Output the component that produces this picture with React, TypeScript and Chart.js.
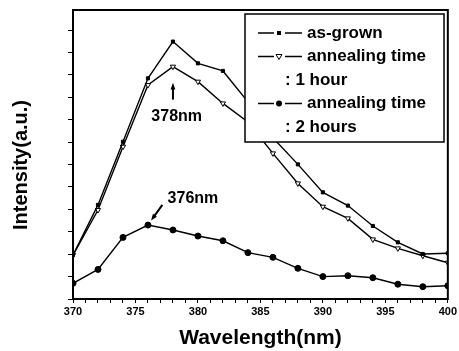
import React, { useEffect, useRef } from "react";
import { Chart, registerables } from "chart.js";

Chart.register(...registerables);

const wavelengths = [370, 372, 374, 376, 378, 380, 382, 384, 386, 388, 390, 392, 394, 396, 398, 400];
const asGrown = [1.96, 4.2, 7.02, 9.85, 11.49, 10.52, 10.18, 8.8, 7.2, 6.01, 4.76, 4.17, 3.26, 2.53, 2.01, 2.04];
const anneal1h = [1.96, 3.97, 6.8, 9.55, 10.37, 9.7, 8.73, 7.9, 6.5, 5.16, 4.12, 3.6, 2.66, 2.26, 1.93, 1.62];
const anneal2h = [0.7, 1.32, 2.75, 3.3, 3.08, 2.81, 2.6, 2.07, 1.86, 1.37, 1.0, 1.04, 0.95, 0.66, 0.55, 0.59];

const xTickLabels = ["370", "375", "380", "385", "390", "395", "400"];
const legendRows = ["as-grown", "annealing time", ": 1 hour", "annealing time", ": 2 hours"];
const seriesNames = ["as-grown", "annealing time : 1 hour", "annealing time : 2 hours"];
const peakLabels = ["378nm", "376nm"];
const peakLabelPos = [
  [378.3, 8.12],
  [379.6, 4.5],
];
const peakArrows = [
  [378, 8.9, 378, 9.65],
  [377.15, 4.2, 376.25, 3.5],
];

const FONT = '"Liberation Sans", Arial, sans-serif';

function drawMarker(ctx: CanvasRenderingContext2D, kind: number, x: number, y: number) {
  ctx.save();
  ctx.fillStyle = "#000";
  ctx.strokeStyle = "#000";
  ctx.lineWidth = 1;
  if (kind === 0) {
    ctx.fillRect(x - 2, y - 2, 4, 4);
  } else if (kind === 1) {
    ctx.beginPath();
    ctx.moveTo(x - 3, y - 2);
    ctx.lineTo(x + 3, y - 2);
    ctx.lineTo(x, y + 3);
    ctx.closePath();
    ctx.fillStyle = "#fff";
    ctx.fill();
    ctx.stroke();
  } else {
    ctx.beginPath();
    ctx.arc(x, y, 3, 0, Math.PI * 2);
    ctx.fill();
  }
  ctx.restore();
}

function drawArrow(ctx: CanvasRenderingContext2D, x1: number, y1: number, x2: number, y2: number) {
  const ang = Math.atan2(y2 - y1, x2 - x1);
  const head = 7;
  ctx.save();
  ctx.strokeStyle = "#000";
  ctx.fillStyle = "#000";
  ctx.lineWidth = 2;
  ctx.beginPath();
  ctx.moveTo(x1, y1);
  ctx.lineTo(x2 - Math.cos(ang) * head * 0.6, y2 - Math.sin(ang) * head * 0.6);
  ctx.stroke();
  ctx.beginPath();
  ctx.moveTo(x2, y2);
  ctx.lineTo(x2 - head * Math.cos(ang - 0.35), y2 - head * Math.sin(ang - 0.35));
  ctx.lineTo(x2 - head * Math.cos(ang + 0.35), y2 - head * Math.sin(ang + 0.35));
  ctx.closePath();
  ctx.fill();
  ctx.restore();
}

const decorPlugin = {
  id: "decor",
  afterDraw(chart: any) {
    const { ctx, chartArea, scales } = chart;
    const xs = scales.x;
    const ys = scales.y;
    ctx.save();
    // frame
    ctx.strokeStyle = "#000";
    ctx.lineWidth = 2;
    ctx.strokeRect(chartArea.left, chartArea.top, chartArea.right - chartArea.left, chartArea.bottom - chartArea.top);

    // y title
    ctx.save();
    ctx.translate(21, 165);
    ctx.rotate(-Math.PI / 2);
    ctx.font = `bold 20px ${FONT}`;
    ctx.fillStyle = "#000";
    ctx.textAlign = "center";
    ctx.textBaseline = "middle";
    ctx.fillText("Intensity(a.u.)", 0, 0);
    ctx.restore();

    // peak annotations
    ctx.font = `bold 16px ${FONT}`;
    ctx.fillStyle = "#000";
    ctx.textAlign = "center";
    ctx.textBaseline = "middle";
    peakLabels.forEach((t, i) => {
      ctx.fillText(t, xs.getPixelForValue(peakLabelPos[i][0]), ys.getPixelForValue(peakLabelPos[i][1]));
    });
    peakArrows.forEach((a) => {
      drawArrow(ctx, xs.getPixelForValue(a[0]), ys.getPixelForValue(a[1]), xs.getPixelForValue(a[2]), ys.getPixelForValue(a[3]));
    });

    // legend
    const bx = chartArea.left + 172;
    const by = chartArea.top + 4;
    const bw = 199;
    const bh = 128;
    ctx.fillStyle = "#fff";
    ctx.fillRect(bx, by, bw, bh);
    ctx.strokeStyle = "#000";
    ctx.lineWidth = 1.5;
    ctx.strokeRect(bx, by, bw, bh);
    ctx.font = `bold 17px ${FONT}`;
    ctx.fillStyle = "#000";
    ctx.textAlign = "left";
    ctx.textBaseline = "middle";
    const rowH = 23.5;
    const markerRows = [0, 1, 3];
    legendRows.forEach((t, i) => {
      const y = by + 19 + i * rowH;
      const mi = markerRows.indexOf(i);
      const tx = mi >= 0 ? bx + 62 : bx + 40;
      ctx.fillText(t, tx, y);
      if (mi >= 0) {
        ctx.save();
        ctx.strokeStyle = "#000";
        ctx.lineWidth = 1.3;
        ctx.beginPath();
        ctx.moveTo(bx + 13, y);
        ctx.lineTo(bx + 29, y);
        ctx.moveTo(bx + 40, y);
        ctx.lineTo(bx + 57, y);
        ctx.stroke();
        ctx.restore();
        drawMarker(ctx, mi, bx + 34, y);
      }
    });
    ctx.restore();
  },
};

export default function App() {
  const ref = useRef<HTMLCanvasElement | null>(null);
  useEffect(() => {
    if (!ref.current) return;
    const mk = (vals: number[]) => wavelengths.map((w, i) => ({ x: w, y: vals[i] }));
    const common = {
      borderColor: "#000",
      borderWidth: 1.4,
      pointBorderColor: "#000",
      tension: 0,
      fill: false,
    };
    const chart = new Chart(ref.current, {
      type: "line",
      data: {
        datasets: [
          {
            ...common,
            label: seriesNames[0],
            data: mk(asGrown),
            pointStyle: "rect",
            pointRadius: 2.2,
            pointBackgroundColor: "#000",
            pointBorderWidth: 1,
          },
          {
            ...common,
            label: seriesNames[1],
            data: mk(anneal1h),
            pointStyle: "triangle",
            pointRotation: 180,
            pointRadius: 3,
            pointBackgroundColor: "#fff",
            pointBorderWidth: 1,
          },
          {
            ...common,
            label: seriesNames[2],
            data: mk(anneal2h),
            pointStyle: "circle",
            pointRadius: 3,
            pointBackgroundColor: "#000",
            pointBorderWidth: 1,
          },
        ],
      } as any,
      options: {
        animation: false,
        responsive: false,
        maintainAspectRatio: false,
        layout: { padding: { left: 0, top: 10, right: 8, bottom: 0 } },
        plugins: { legend: { display: false }, tooltip: { enabled: false } },
        scales: {
          x: {
            type: "linear",
            min: 370,
            max: 400,
            afterFit: (s: any) => {
              s.height = 52;
            },
            ticks: {
              stepSize: 1,
              autoSkip: false,
              maxRotation: 0,
              color: "#000",
              font: { family: FONT, size: 11, weight: "bold" },
              padding: 2,
              callback: (v: any) => {
                const s = String(v);
                return xTickLabels.includes(s) ? s : "";
              },
            },
            grid: { drawOnChartArea: false, drawTicks: true, tickLength: 4, color: "#000", lineWidth: 1 },
            border: { display: true, color: "#000", width: 2 },
            title: {
              display: true,
              text: "Wavelength(nm)",
              color: "#000",
              font: { family: FONT, size: 21, weight: "bold" },
              padding: { top: 0, bottom: 0 },
            },
          },
          y: {
            type: "linear",
            min: 0,
            max: 12.9,
            afterFit: (s: any) => {
              s.width = 73;
            },
            afterBuildTicks: (s: any) => {
              s.ticks = s.ticks.filter((t: any) => Number.isInteger(t.value));
            },
            ticks: { stepSize: 1, callback: () => "", padding: 0 },
            grid: { drawOnChartArea: false, drawTicks: true, tickLength: 5, color: "#000", lineWidth: 1 },
            border: { display: true, color: "#000", width: 2 },
          },
        },
      } as any,
      plugins: [decorPlugin],
    });
    return () => chart.destroy();
  }, []);
  return (
    <div style={{ position: "absolute", left: 0, top: 0, width: 459, height: 351, background: "#fff" }}>
      <canvas ref={ref} width={459} height={351} style={{ display: "block", width: 459, height: 351 }} />
    </div>
  );
}
